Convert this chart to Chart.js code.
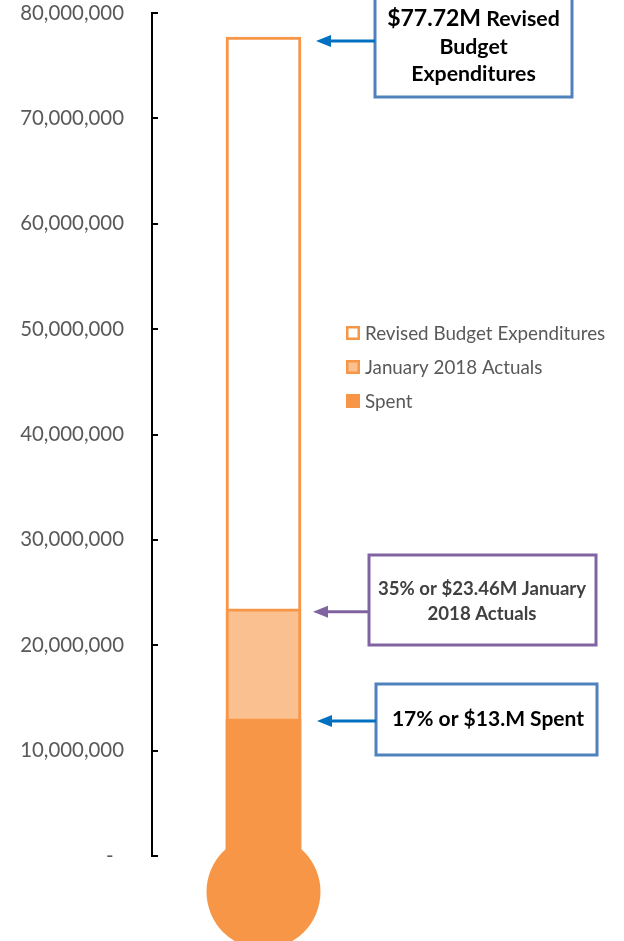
<!DOCTYPE html>
<html>
<head>
<meta charset="utf-8">
<script src="https://cdn.jsdelivr.net/npm/chart.js@4.4.1/dist/chart.umd.min.js"></script>
<style>
  html, body { margin: 0; padding: 0; background: #fff; }
  #wrap { width: 624px; height: 941px; position: relative; }
</style>
</head>
<body>
<div id="wrap"><canvas id="c" width="624" height="941"></canvas></div>
<script>
// ---- data ----
const categories = ['Budget'];
const seriesNames = ['Revised Budget Expenditures', 'January 2018 Actuals', 'Spent'];
const revisedBudget = [77720000];
const januaryActuals = [23460000];
const spent = [13000000];
const bulbBase = [-3400000];
const yTickValues = [0, 10000000, 20000000, 30000000, 40000000, 50000000, 60000000, 70000000, 80000000];
const yTickLabels = ['-  ', '10,000,000', '20,000,000', '30,000,000', '40,000,000', '50,000,000', '60,000,000', '70,000,000', '80,000,000'];
const calloutRevised = ['$77.72M', ' Revised', 'Budget', 'Expenditures'];
const calloutActuals = ['35% or $23.46M January', '2018 Actuals'];
const calloutSpent = ['17% or $13.M Spent'];

// ---- styles ----
const ORANGE = '#F79646';
const LIGHT = '#FAC090';
const FONT = 'Lato, "Open Sans", sans-serif';

const extras = {
  id: 'extras',
  afterDraw(chart) {
    const ctx = chart.ctx;
    const y = chart.scales.y;
    const area = chart.chartArea;
    ctx.save();
    // inward tick marks
    ctx.strokeStyle = '#000';
    ctx.lineWidth = 2;
    y.ticks.forEach((t) => {
      const py = Math.round(y.getPixelForValue(t.value));
      ctx.beginPath();
      ctx.moveTo(area.left, py);
      ctx.lineTo(area.left + 6, py);
      ctx.stroke();
    });

    // legend
    const ds = chart.data.datasets;
    ctx.font = '18.8px ' + FONT;
    ctx.textBaseline = 'middle';
    ctx.textAlign = 'left';
    for (let i = 0; i < 3; i++) {
      const cy = 333 + i * 34;
      const d = ds[i];
      ctx.fillStyle = d.backgroundColor;
      ctx.fillRect(346, cy - 7, 14, 14);
      if (d.borderWidth) {
        ctx.strokeStyle = d.borderColor;
        ctx.lineWidth = 2.5;
        ctx.strokeRect(347.25, cy - 5.75, 11.5, 11.5);
      }
      ctx.fillStyle = '#595959';
      ctx.fillText(d.label, 365, cy + 1);
    }

    function arrow(x0, x1, ay, color) {
      ctx.strokeStyle = color;
      ctx.fillStyle = color;
      ctx.lineWidth = 3;
      ctx.beginPath();
      ctx.moveTo(x0, ay);
      ctx.lineTo(x1 + 12, ay);
      ctx.stroke();
      ctx.beginPath();
      ctx.moveTo(x1, ay);
      ctx.lineTo(x1 + 15, ay - 6);
      ctx.lineTo(x1 + 15, ay + 6);
      ctx.closePath();
      ctx.fill();
    }
    function box(x0, y0, x1, y1, color) {
      ctx.fillStyle = '#fff';
      ctx.fillRect(x0, y0, x1 - x0, y1 - y0);
      ctx.strokeStyle = color;
      ctx.lineWidth = 3;
      ctx.strokeRect(x0, y0, x1 - x0, y1 - y0);
    }

    // callout 1: revised budget
    const yR = y.getPixelForValue(revisedBudget[0]);
    box(375, -4, 572, 97, '#4F81BD');
    arrow(375, 316, yR + 4, '#0070C0');
    ctx.fillStyle = '#000';
    ctx.textBaseline = 'alphabetic';
    ctx.font = 'bold 23px ' + FONT;
    const w1 = ctx.measureText(calloutRevised[0]).width;
    ctx.font = 'bold 21.3px ' + FONT;
    const w2 = ctx.measureText(calloutRevised[1]).width;
    let sx = 473.5 - (w1 + w2) / 2;
    ctx.textAlign = 'left';
    ctx.font = 'bold 23px ' + FONT;
    ctx.fillText(calloutRevised[0], sx, 26);
    ctx.font = 'bold 21.3px ' + FONT;
    ctx.fillText(calloutRevised[1], sx + w1, 26);
    ctx.textAlign = 'center';
    ctx.fillText(calloutRevised[2], 473.5, 54);
    ctx.fillText(calloutRevised[3], 473.5, 81);

    // callout 2: January actuals
    const yA = y.getPixelForValue(januaryActuals[0]);
    box(369, 555, 596, 645, '#8064A2');
    arrow(369, 313, yA + 3, '#8064A2');
    ctx.fillStyle = '#404040';
    ctx.font = 'bold 18.6px ' + FONT;
    ctx.textAlign = 'center';
    ctx.fillText(calloutActuals[0], 482, 595);
    ctx.fillText(calloutActuals[1], 482, 620);

    // callout 3: spent
    const yS = y.getPixelForValue(spent[0]);
    box(376, 684, 597, 755, '#4F81BD');
    arrow(376, 317, yS + 2, '#0070C0');
    ctx.fillStyle = '#000';
    ctx.font = 'bold 21px ' + FONT;
    ctx.textAlign = 'center';
    ctx.fillText(calloutSpent[0], 488, 726);

    ctx.restore();
  }
};

new Chart(document.getElementById('c'), {
  data: {
    labels: categories,
    datasets: [
      { type: 'bar', label: seriesNames[0], data: revisedBudget, backgroundColor: '#FFFFFF', borderColor: ORANGE, borderWidth: 3, borderSkipped: false, grouped: false, barThickness: 75, order: 4 },
      { type: 'bar', label: seriesNames[1], data: januaryActuals, backgroundColor: LIGHT, borderColor: ORANGE, borderWidth: 3, borderSkipped: false, grouped: false, barThickness: 75, order: 3 },
      { type: 'bar', label: seriesNames[2], data: spent, backgroundColor: ORANGE, borderColor: ORANGE, borderWidth: 0, grouped: false, barThickness: 75, order: 2 },
      { type: 'line', label: 'bulb', data: bulbBase, showLine: false, pointRadius: 57, pointHoverRadius: 57, pointBackgroundColor: ORANGE, pointBorderWidth: 0, pointBorderColor: ORANGE, clip: false, order: 1 }
    ]
  },
  options: {
    responsive: false,
    animation: false,
    events: [],
    layout: { autoPadding: false, padding: { top: 13, bottom: 85, left: 0, right: 249 } },
    plugins: { legend: { display: false }, tooltip: { enabled: false } },
    scales: {
      x: { display: false },
      y: {
        min: 0,
        max: 80000000,
        afterFit(s) { s.width = 152; s.paddingTop = 10; s.paddingBottom = 10; },
        afterBuildTicks(s) { s.ticks = yTickValues.map(v => ({ value: v })); },
        ticks: {
          padding: 28,
          color: '#595959',
          font: { family: 'Lato', size: 20.4 },
          callback: (v, i) => yTickLabels[i]
        },
        grid: { display: true, drawOnChartArea: false, drawTicks: false },
        border: { display: true, color: '#000', width: 2 }
      }
    }
  },
  plugins: [extras]
});
</script>
</body>
</html>
